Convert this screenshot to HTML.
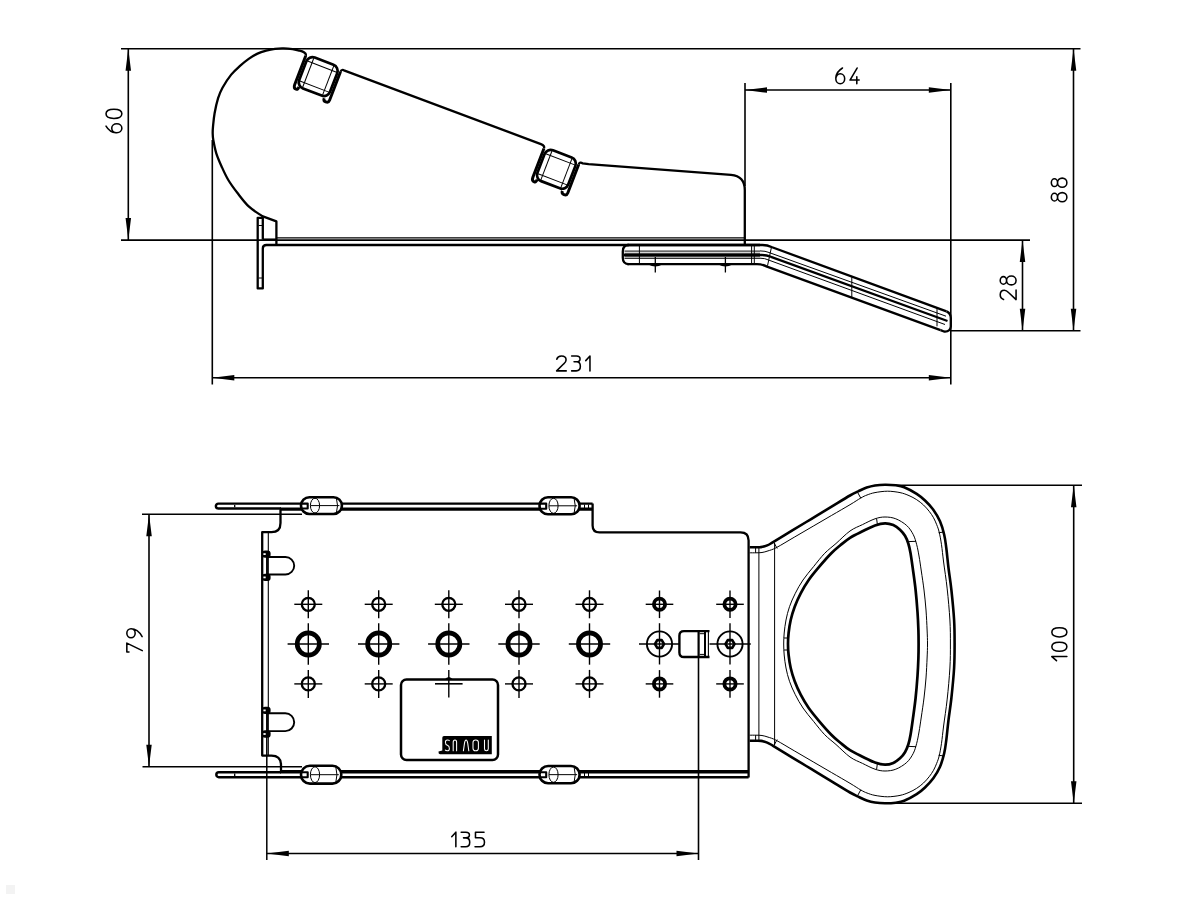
<!DOCTYPE html>
<html><head><meta charset="utf-8"><style>
html,body{margin:0;padding:0;background:#fff;}
svg{display:block;}
text{font-family:"Liberation Sans",sans-serif;fill:#000;stroke:none;}
</style></head><body>
<svg width="1200" height="900" viewBox="0 0 1200 900" stroke="#000" fill="none" stroke-linecap="butt" stroke-linejoin="round">
<rect width="1200" height="900" fill="#fff" stroke="none"/>
<line x1="121" y1="48.8" x2="1080.5" y2="48.8" stroke-width="1.6"/>
<line x1="128.3" y1="48.8" x2="128.3" y2="240" stroke-width="1.6"/>
<path d="M128.3,48.8 L131.05,70.8 L125.55,70.8 Z" fill="#000" stroke="none"/>
<path d="M128.3,240 L125.55,218 L131.05,218 Z" fill="#000" stroke="none"/>
<line x1="121" y1="240.1" x2="1030" y2="240.1" stroke-width="1.6"/>
<line x1="212.3" y1="140" x2="212.3" y2="384.5" stroke-width="1.6"/>
<line x1="212.3" y1="377.7" x2="950.8" y2="377.7" stroke-width="1.6"/>
<path d="M212.3,377.7 L234.3,374.95 L234.3,380.45 Z" fill="#000" stroke="none"/>
<path d="M950.8,377.7 L928.8,380.45 L928.8,374.95 Z" fill="#000" stroke="none"/>
<line x1="950.8" y1="83" x2="950.8" y2="384.5" stroke-width="1.6"/>
<line x1="745" y1="83" x2="745" y2="186" stroke-width="1.6"/>
<line x1="745" y1="90" x2="950.8" y2="90" stroke-width="1.6"/>
<path d="M745,90 L767,87.25 L767,92.75 Z" fill="#000" stroke="none"/>
<path d="M950.8,90 L928.8,92.75 L928.8,87.25 Z" fill="#000" stroke="none"/>
<line x1="1073.5" y1="48.8" x2="1073.5" y2="330.8" stroke-width="1.6"/>
<path d="M1073.5,48.8 L1076.25,70.8 L1070.75,70.8 Z" fill="#000" stroke="none"/>
<path d="M1073.5,330.8 L1070.75,308.8 L1076.25,308.8 Z" fill="#000" stroke="none"/>
<line x1="1022.5" y1="240.1" x2="1022.5" y2="330.8" stroke-width="1.6"/>
<path d="M1022.5,240.1 L1025.25,262.1 L1019.75,262.1 Z" fill="#000" stroke="none"/>
<path d="M1022.5,330.8 L1019.75,308.8 L1025.25,308.8 Z" fill="#000" stroke="none"/>
<line x1="950.8" y1="330.8" x2="1080.5" y2="330.8" stroke-width="1.6"/>
<g transform="matrix(0,-14.91,15.85,0,106.02,132.77)" stroke-width="1.55" fill="none" stroke-linecap="round" stroke-linejoin="round"><path transform="translate(0,0)" d="M0.3,0.36 C0.47,0.36 0.6,0.5 0.6,0.68 C0.6,0.86 0.47,1 0.3,1 C0.13,1 0,0.86 0,0.68 C0,0.5 0.13,0.36 0.3,0.36 Z M0.45,0 C0.24,0.12 0.03,0.3 0,0.62" vector-effect="non-scaling-stroke"/><path transform="translate(0.96,0)" d="M0.31,0 C0.5,0 0.62,0.2 0.62,0.5 C0.62,0.8 0.5,1 0.31,1 C0.12,1 0,0.8 0,0.5 C0,0.2 0.12,0 0.31,0 Z" vector-effect="non-scaling-stroke"/></g>
<g transform="matrix(14.78,0,0,15.8,835.82,68.02)" stroke-width="1.55" fill="none" stroke-linecap="round" stroke-linejoin="round"><path transform="translate(0,0)" d="M0.3,0.36 C0.47,0.36 0.6,0.5 0.6,0.68 C0.6,0.86 0.47,1 0.3,1 C0.13,1 0,0.86 0,0.68 C0,0.5 0.13,0.36 0.3,0.36 Z M0.45,0 C0.24,0.12 0.03,0.3 0,0.62" vector-effect="non-scaling-stroke"/><path transform="translate(0.96,0)" d="M0.48,0 L0,0.76 L0.62,0.76 M0.46,0.56 L0.46,1" vector-effect="non-scaling-stroke"/></g>
<g transform="matrix(0,-15.1,15.55,0,1051.33,201.67)" stroke-width="1.55" fill="none" stroke-linecap="round" stroke-linejoin="round"><path transform="translate(0,0)" d="M0.3,0 C0.44,0 0.56,0.09 0.56,0.2 C0.56,0.31 0.44,0.4 0.3,0.4 C0.16,0.4 0.04,0.31 0.04,0.2 C0.04,0.09 0.16,0 0.3,0 Z M0.3,0.4 C0.47,0.4 0.6,0.53 0.6,0.7 C0.6,0.87 0.47,1 0.3,1 C0.13,1 0,0.87 0,0.7 C0,0.53 0.13,0.4 0.3,0.4 Z" vector-effect="non-scaling-stroke"/><path transform="translate(0.96,0)" d="M0.3,0 C0.44,0 0.56,0.09 0.56,0.2 C0.56,0.31 0.44,0.4 0.3,0.4 C0.16,0.4 0.04,0.31 0.04,0.2 C0.04,0.09 0.16,0 0.3,0 Z M0.3,0.4 C0.47,0.4 0.6,0.53 0.6,0.7 C0.6,0.87 0.47,1 0.3,1 C0.13,1 0,0.87 0,0.7 C0,0.53 0.13,0.4 0.3,0.4 Z" vector-effect="non-scaling-stroke"/></g>
<g transform="matrix(0,-14.72,15.85,0,1000.22,299.57)" stroke-width="1.55" fill="none" stroke-linecap="round" stroke-linejoin="round"><path transform="translate(0,0)" d="M0.01,0.21 C0.05,0.08 0.16,0 0.32,0 C0.5,0 0.63,0.1 0.63,0.26 C0.63,0.37 0.56,0.45 0.46,0.54 L0,1 L0.64,1" vector-effect="non-scaling-stroke"/><path transform="translate(1,0)" d="M0.3,0 C0.44,0 0.56,0.09 0.56,0.2 C0.56,0.31 0.44,0.4 0.3,0.4 C0.16,0.4 0.04,0.31 0.04,0.2 C0.04,0.09 0.16,0 0.3,0 Z M0.3,0.4 C0.47,0.4 0.6,0.53 0.6,0.7 C0.6,0.87 0.47,1 0.3,1 C0.13,1 0,0.87 0,0.7 C0,0.53 0.13,0.4 0.3,0.4 Z" vector-effect="non-scaling-stroke"/></g>
<g transform="matrix(15.02,0,0,14.85,556.62,356.03)" stroke-width="1.55" fill="none" stroke-linecap="round" stroke-linejoin="round"><path transform="translate(0,0)" d="M0.01,0.21 C0.05,0.08 0.16,0 0.32,0 C0.5,0 0.63,0.1 0.63,0.26 C0.63,0.37 0.56,0.45 0.46,0.54 L0,1 L0.64,1" vector-effect="non-scaling-stroke"/><path transform="translate(1,0)" d="M0,0 L0.32,0 C0.47,0 0.56,0.09 0.56,0.2 C0.56,0.31 0.47,0.39 0.32,0.39 L0.16,0.39 M0.32,0.39 C0.49,0.39 0.58,0.52 0.58,0.69 C0.58,0.88 0.47,1 0.3,1 L0,1" vector-effect="non-scaling-stroke"/><path transform="translate(1.94,0)" d="M0,0.31 L0.28,0 L0.28,1" vector-effect="non-scaling-stroke"/></g>
<g transform="translate(318.2,76.6) rotate(21)"><rect x="-16.5" y="-16.5" width="33" height="33" rx="6.5" stroke-width="2.6999999999999997" fill="none"/><line x1="-15.5" y1="-10.7" x2="15.5" y2="-10.7" stroke-width="1.0"/><line x1="-10.7" y1="-15.5" x2="-10.7" y2="15.5" stroke-width="1.0"/><line x1="-15.5" y1="10.7" x2="15.5" y2="10.7" stroke-width="1.0"/><line x1="10.7" y1="-15.5" x2="10.7" y2="15.5" stroke-width="1.0"/><path d="M-19.1,-15.0 L-19.1,16.0 Q-19.1,19.7 -16.1,19.7 Q-14.3,19.7 -14.3,16.5" stroke-width="2.9" fill="none"/><path d="M19.1,-12.5 L19.1,18.0 Q19.1,20.9 16.1,20.9 Q13.3,20.9 13.3,18.0" stroke-width="2.9" fill="none"/></g>
<g transform="translate(556.4,169.3) rotate(21)"><rect x="-16.5" y="-16.5" width="33" height="33" rx="6.5" stroke-width="2.6999999999999997" fill="none"/><line x1="-15.5" y1="-10.7" x2="15.5" y2="-10.7" stroke-width="1.0"/><line x1="-10.7" y1="-15.5" x2="-10.7" y2="15.5" stroke-width="1.0"/><line x1="-15.5" y1="10.7" x2="15.5" y2="10.7" stroke-width="1.0"/><line x1="10.7" y1="-15.5" x2="10.7" y2="15.5" stroke-width="1.0"/><path d="M-19.1,-15.0 L-19.1,16.0 Q-19.1,19.7 -16.1,19.7 Q-14.3,19.7 -14.3,16.5" stroke-width="2.9" fill="none"/><path d="M19.1,-12.5 L19.1,18.0 Q19.1,20.9 16.1,20.9 Q13.3,20.9 13.3,18.0" stroke-width="2.9" fill="none"/></g>
<path d="M276.4,244.5 L276.4,221.4 L262.2,216.1  C260,214.53 253.08,210.5 249,206.7 C244.92,202.9 241.15,197.75 237.7,193.3 C234.25,188.85 230.97,184.43 228.3,180 C225.63,175.57 223.7,171.15 221.7,166.7 C219.7,162.25 217.7,157.75 216.3,153.3 C214.9,148.85 213.9,143.33 213.3,140 C212.7,136.67 212.75,135.52 212.7,133.3 C212.65,131.08 212.68,130.03 213,126.7 C213.32,123.37 213.75,118.05 214.6,113.3 C215.45,108.55 216.78,102.47 218.1,98.2 C219.42,93.93 220.32,91.63 222.5,87.7 C224.68,83.77 228.28,78.23 231.2,74.6 C234.12,70.97 237.08,68.52 240,65.9 C242.92,63.28 245.78,60.95 248.7,58.9 C251.62,56.85 254.58,54.98 257.5,53.6 C260.42,52.22 263.28,51.4 266.2,50.6 C269.12,49.8 272.08,49.17 275,48.8 C277.92,48.43 280.78,48.33 283.7,48.4 C286.62,48.47 289.87,48.83 292.5,49.2 C295.13,49.57 298.33,50.37 299.5,50.6 C302.9,51.3 306.75,53.14 305.74,55.75" stroke-width="2.3" fill="none" />
<path d="M340.51,71.78 Q341.66,68.79 344.61,70.69 L540.94,144.15 Q545.02,145.65 543.94,148.45" stroke-width="2.3" fill="none" />
<path d="M578.71,164.48 Q579.86,161.49 582.8,163.42 L588.6,164.2 L731,174.8 Q744.8,176 744.8,190 L744.8,244.5" stroke-width="2.3" fill="none" />
<path d="M262.8,239.6 L262.8,217.8 L257.7,217.8 L257.7,288.4 L262.8,288.4 L262.8,248.5 Q262.8,245 266.5,245 L760,245" stroke-width="2.3" fill="none" />
<path d="M262.8,239.6 L276.4,239.6" stroke-width="2.3" fill="none" />
<line x1="276.4" y1="237.9" x2="744.8" y2="237.9" stroke-width="1.1"/>
<line x1="258.5" y1="225.5" x2="262" y2="225.5" stroke-width="1.0"/>
<line x1="258.5" y1="278" x2="262" y2="278" stroke-width="1.0"/>
<path d="M627,245 L762.5,245 Q767.5,245 771.5,247 L946.5,311.4" stroke-width="2.3" fill="none" />
<path d="M627,264.2 L757,264.2 Q762,264.2 767,266.6 L940.5,330.2" stroke-width="2.3" fill="none" />
<path d="M629,245 Q622.8,245 622.8,251.5 L622.8,257.8 Q622.8,264.2 629,264.2" stroke-width="2.3" fill="none" />
<path d="M946.5,311.4 Q950.8,313.2 950.8,318 L950.8,326.5 Q950.2,332 944,331.5 L940.5,330.2" stroke-width="2.3" fill="none" />
<line x1="624.5" y1="251.1" x2="760" y2="251.1" stroke-width="1.0"/>
<line x1="624" y1="255" x2="762" y2="255" stroke-width="2.3"/>
<line x1="624.5" y1="258.3" x2="760" y2="258.3" stroke-width="1.0"/>
<line x1="624.5" y1="253.3" x2="760" y2="253.3" stroke-width="0.8"/>
<line x1="624.5" y1="256.7" x2="760" y2="256.7" stroke-width="0.8"/>
<line x1="639.4" y1="245" x2="639.4" y2="264.2" stroke-width="1.0"/>
<line x1="751.6" y1="245" x2="751.6" y2="264.2" stroke-width="1.0"/>
<line x1="754.3" y1="245" x2="754.3" y2="264.2" stroke-width="1.0"/>
<path d="M760,250.9 Q765.5,250.9 769,252.5 L946,316.2" stroke-width="1.0" fill="none" />
<path d="M762,255 Q767,255 771,256.8 L947.5,321" stroke-width="2.3" fill="none" />
<path d="M760,258.2 Q765,258.2 768.5,260 L945,324.5" stroke-width="1.0" fill="none" />
<line x1="851.8" y1="277.2" x2="851.8" y2="297.6" stroke-width="1.0"/>
<line x1="937" y1="307.5" x2="937" y2="326.3" stroke-width="1.0"/>
<line x1="771.5" y1="247" x2="767.5" y2="265.8" stroke-width="1.0"/>
<line x1="655.3" y1="257" x2="655.3" y2="272.5" stroke-width="1.3"/>
<path d="M648.3,264.5 Q655.3,268.5 662.3,264.5 Z" fill="#000" stroke="none"/>
<line x1="725.4" y1="257" x2="725.4" y2="272.5" stroke-width="1.3"/>
<path d="M718.4,264.5 Q725.4,268.5 732.4,264.5 Z" fill="#000" stroke="none"/>
<line x1="142" y1="514.2" x2="302" y2="514.2" stroke-width="1.6"/>
<line x1="142.5" y1="766.7" x2="302" y2="766.7" stroke-width="1.6"/>
<line x1="149" y1="514.2" x2="149" y2="766.7" stroke-width="1.6"/>
<path d="M149,514.2 L151.75,536.2 L146.25,536.2 Z" fill="#000" stroke="none"/>
<path d="M149,766.7 L146.25,744.7 L151.75,744.7 Z" fill="#000" stroke="none"/>
<g transform="matrix(0,-14.9,15.45,0,126.83,652.08)" stroke-width="1.55" fill="none" stroke-linecap="round" stroke-linejoin="round"><path transform="translate(0,0)" d="M0,0.14 L0,0 L0.6,0 L0.1,1" vector-effect="non-scaling-stroke"/><path transform="translate(0.96,0)" d="M0.3,0 C0.47,0 0.6,0.12 0.6,0.27 C0.6,0.42 0.47,0.54 0.3,0.54 C0.13,0.54 0,0.42 0,0.27 C0,0.12 0.13,0 0.3,0 Z M0.6,0.27 C0.6,0.52 0.42,0.8 0.08,0.99" vector-effect="non-scaling-stroke"/></g>
<line x1="890" y1="485.2" x2="1082" y2="485.2" stroke-width="1.6"/>
<line x1="886" y1="803.3" x2="1082" y2="803.3" stroke-width="1.6"/>
<line x1="1073.7" y1="485.2" x2="1073.7" y2="803.3" stroke-width="1.6"/>
<path d="M1073.7,485.2 L1076.45,507.2 L1070.95,507.2 Z" fill="#000" stroke="none"/>
<path d="M1073.7,803.3 L1070.95,781.3 L1076.45,781.3 Z" fill="#000" stroke="none"/>
<g transform="matrix(0,-14.67,15.05,0,1051.83,660.68)" stroke-width="1.55" fill="none" stroke-linecap="round" stroke-linejoin="round"><path transform="translate(0,0)" d="M0,0.31 L0.28,0 L0.28,1" vector-effect="non-scaling-stroke"/><path transform="translate(0.64,0)" d="M0.31,0 C0.5,0 0.62,0.2 0.62,0.5 C0.62,0.8 0.5,1 0.31,1 C0.12,1 0,0.8 0,0.5 C0,0.2 0.12,0 0.31,0 Z" vector-effect="non-scaling-stroke"/><path transform="translate(1.62,0)" d="M0.31,0 C0.5,0 0.62,0.2 0.62,0.5 C0.62,0.8 0.5,1 0.31,1 C0.12,1 0,0.8 0,0.5 C0,0.2 0.12,0 0.31,0 Z" vector-effect="non-scaling-stroke"/></g>
<line x1="268.3" y1="532" x2="268.3" y2="755.6" stroke-width="1.1"/>
<line x1="266.8" y1="733" x2="266.8" y2="860" stroke-width="1.5"/>
<line x1="698.5" y1="657.5" x2="698.5" y2="860" stroke-width="1.6"/>
<line x1="266.8" y1="853.5" x2="698.5" y2="853.5" stroke-width="1.6"/>
<path d="M266.8,853.5 L288.8,850.75 L288.8,856.25 Z" fill="#000" stroke="none"/>
<path d="M698.5,853.5 L676.5,856.25 L676.5,850.75 Z" fill="#000" stroke="none"/>
<g transform="matrix(14.75,0,0,14.6,451.73,832.17)" stroke-width="1.55" fill="none" stroke-linecap="round" stroke-linejoin="round"><path transform="translate(0,0)" d="M0,0.31 L0.28,0 L0.28,1" vector-effect="non-scaling-stroke"/><path transform="translate(0.64,0)" d="M0,0 L0.32,0 C0.47,0 0.56,0.09 0.56,0.2 C0.56,0.31 0.47,0.39 0.32,0.39 L0.16,0.39 M0.32,0.39 C0.49,0.39 0.58,0.52 0.58,0.69 C0.58,0.88 0.47,1 0.3,1 L0,1" vector-effect="non-scaling-stroke"/><path transform="translate(1.58,0)" d="M0.61,0 L0.03,0 L0.03,0.38 L0.34,0.38 C0.53,0.38 0.64,0.5 0.64,0.69 C0.64,0.88 0.52,1 0.33,1 L0,1" vector-effect="non-scaling-stroke"/></g>
<path d="M592.6,503.6 L218.3,503.6 A2.45,2.45 0 0 0 218.3,508.5 L281,508.5" stroke-width="2.4" fill="none" />
<line x1="280" y1="509.1" x2="592.6" y2="509.1" stroke-width="3.4"/>
<path d="M281,772.3 L218.8,772.3 A2.45,2.45 0 0 0 218.8,777.2 L748.6,777.2" stroke-width="2.5" fill="none" />
<line x1="280" y1="771.8" x2="748.6" y2="771.8" stroke-width="3.6"/>
<line x1="234.7" y1="505" x2="234.7" y2="507.2" stroke-width="1.3"/>
<line x1="234.7" y1="773.6" x2="234.7" y2="775.9" stroke-width="1.3"/>
<path d="M592.6,503.5 L592.6,525.5 Q592.6,532.4 599.5,532.4 L740.5,532.4 Q748.6,532.4 748.6,540.5 L748.6,777.4" stroke-width="2.3" fill="none" />
<path d="M280.5,509.2 L280.5,523 Q280.5,532.2 271.5,532.2 L262.2,532.2 L262.2,755.6 L271.5,755.6 Q281,755.6 281,765.1 L281,771.9" stroke-width="2.3" fill="none" />
<line x1="584.5" y1="504.5" x2="584.5" y2="508.2" stroke-width="1.0"/>
<line x1="584.5" y1="772.8" x2="584.5" y2="776.6" stroke-width="1.0"/>
<line x1="588.5" y1="504.5" x2="588.5" y2="508.2" stroke-width="1.0"/>
<line x1="588.5" y1="772.8" x2="588.5" y2="776.6" stroke-width="1.0"/>
<path d="M267,557 L285.45,557 A8.75,8.75 0 0 1 285.45,574.5 L267,574.5 Z" stroke-width="1.9" fill="none" />
<rect x="262" y="550.4" width="8.6" height="7.4" rx="3" fill="#000" stroke="none"/>
<rect x="263.4" y="553.2" width="2.3" height="1.8" fill="#fff" stroke="none"/>
<rect x="262" y="573.7" width="8.6" height="7.4" rx="3" fill="#000" stroke="none"/>
<rect x="263.4" y="576.5" width="2.3" height="1.8" fill="#fff" stroke="none"/>
<path d="M267,713.3 L285.3,713.3 A8.9,8.9 0 0 1 285.3,731.1 L267,731.1 Z" stroke-width="1.9" fill="none" />
<rect x="262" y="706.7" width="8.6" height="7.4" rx="3" fill="#000" stroke="none"/>
<rect x="263.4" y="709.5" width="2.3" height="1.8" fill="#fff" stroke="none"/>
<rect x="262" y="730.3" width="8.6" height="7.4" rx="3" fill="#000" stroke="none"/>
<rect x="263.4" y="733.1" width="2.3" height="1.8" fill="#fff" stroke="none"/>
<rect x="301" y="497.2" width="40.9" height="16.8" rx="8.4" stroke-width="2.5999999999999996" fill="#fff"/>
<path d="M301.5,503.6 L307.7,503.6 L307.7,508.5 L301.5,508.5" stroke-width="2.1"/>
<ellipse cx="315" cy="505.6" rx="4.6" ry="7.4" stroke-width="1.0"/>
<path d="M336.4,498.4 Q338.7,505.6 336.4,512.8" stroke-width="1.0"/>
<line x1="310.5" y1="505.6" x2="339.4" y2="505.6" stroke-width="1.0"/>
<rect x="539.5" y="497.3" width="40.1" height="17" rx="8.5" stroke-width="2.5999999999999996" fill="#fff"/>
<path d="M540,503.6 L546.2,503.6 L546.2,508.7 L540,508.7" stroke-width="2.1"/>
<ellipse cx="553.5" cy="505.8" rx="4.6" ry="7.5" stroke-width="1.0"/>
<path d="M574.1,498.5 Q576.4,505.8 574.1,513.1" stroke-width="1.0"/>
<line x1="549" y1="505.8" x2="577.1" y2="505.8" stroke-width="1.0"/>
<rect x="301" y="765.8" width="40.3" height="17.8" rx="8.9" stroke-width="2.5999999999999996" fill="#fff"/>
<path d="M301.5,772.3 L307.7,772.3 L307.7,777.2 L301.5,777.2" stroke-width="2.1"/>
<ellipse cx="315" cy="774.7" rx="4.6" ry="7.9" stroke-width="1.0"/>
<path d="M335.8,767 Q338.1,774.7 335.8,782.4" stroke-width="1.0"/>
<line x1="310.5" y1="774.7" x2="338.8" y2="774.7" stroke-width="1.0"/>
<rect x="539.5" y="766" width="40.1" height="17.3" rx="8.65" stroke-width="2.5999999999999996" fill="#fff"/>
<path d="M540,772.3 L546.2,772.3 L546.2,777.2 L540,777.2" stroke-width="2.1"/>
<ellipse cx="553.5" cy="774.65" rx="4.6" ry="7.65" stroke-width="1.0"/>
<path d="M574.1,767.2 Q576.4,774.65 574.1,782.1" stroke-width="1.0"/>
<line x1="549" y1="774.65" x2="577.1" y2="774.65" stroke-width="1.0"/>
<circle cx="308.3" cy="604.3" r="6.5" stroke-width="2.3"/>
<line x1="294.3" y1="604.3" x2="322.3" y2="604.3" stroke-width="1.4"/>
<line x1="308.3" y1="590.3" x2="308.3" y2="618.3" stroke-width="1.4"/>
<circle cx="308.3" cy="644" r="11.1" stroke-width="4.7"/>
<line x1="287.6" y1="644" x2="329" y2="644" stroke-width="1.4"/>
<line x1="308.3" y1="623.3" x2="308.3" y2="664.7" stroke-width="1.4"/>
<circle cx="308.3" cy="683.9" r="6.5" stroke-width="2.3"/>
<line x1="294.3" y1="683.9" x2="322.3" y2="683.9" stroke-width="1.4"/>
<line x1="308.3" y1="669.9" x2="308.3" y2="697.9" stroke-width="1.4"/>
<circle cx="378.7" cy="604.3" r="6.5" stroke-width="2.3"/>
<line x1="364.7" y1="604.3" x2="392.7" y2="604.3" stroke-width="1.4"/>
<line x1="378.7" y1="590.3" x2="378.7" y2="618.3" stroke-width="1.4"/>
<circle cx="378.7" cy="644" r="11.1" stroke-width="4.7"/>
<line x1="358" y1="644" x2="399.4" y2="644" stroke-width="1.4"/>
<line x1="378.7" y1="623.3" x2="378.7" y2="664.7" stroke-width="1.4"/>
<circle cx="378.7" cy="683.9" r="6.5" stroke-width="2.3"/>
<line x1="364.7" y1="683.9" x2="392.7" y2="683.9" stroke-width="1.4"/>
<line x1="378.7" y1="669.9" x2="378.7" y2="697.9" stroke-width="1.4"/>
<circle cx="448.8" cy="604.3" r="6.5" stroke-width="2.3"/>
<line x1="434.8" y1="604.3" x2="462.8" y2="604.3" stroke-width="1.4"/>
<line x1="448.8" y1="590.3" x2="448.8" y2="618.3" stroke-width="1.4"/>
<circle cx="448.8" cy="644" r="11.1" stroke-width="4.7"/>
<line x1="428.1" y1="644" x2="469.5" y2="644" stroke-width="1.4"/>
<line x1="448.8" y1="623.3" x2="448.8" y2="664.7" stroke-width="1.4"/>
<circle cx="519" cy="604.3" r="6.5" stroke-width="2.3"/>
<line x1="505" y1="604.3" x2="533" y2="604.3" stroke-width="1.4"/>
<line x1="519" y1="590.3" x2="519" y2="618.3" stroke-width="1.4"/>
<circle cx="519" cy="644" r="11.1" stroke-width="4.7"/>
<line x1="498.3" y1="644" x2="539.7" y2="644" stroke-width="1.4"/>
<line x1="519" y1="623.3" x2="519" y2="664.7" stroke-width="1.4"/>
<circle cx="519" cy="683.9" r="6.5" stroke-width="2.3"/>
<line x1="505" y1="683.9" x2="533" y2="683.9" stroke-width="1.4"/>
<line x1="519" y1="669.9" x2="519" y2="697.9" stroke-width="1.4"/>
<circle cx="589.5" cy="604.3" r="6.5" stroke-width="2.3"/>
<line x1="575.5" y1="604.3" x2="603.5" y2="604.3" stroke-width="1.4"/>
<line x1="589.5" y1="590.3" x2="589.5" y2="618.3" stroke-width="1.4"/>
<circle cx="589.5" cy="644" r="11.1" stroke-width="4.7"/>
<line x1="568.8" y1="644" x2="610.2" y2="644" stroke-width="1.4"/>
<line x1="589.5" y1="623.3" x2="589.5" y2="664.7" stroke-width="1.4"/>
<circle cx="589.5" cy="683.9" r="6.5" stroke-width="2.3"/>
<line x1="575.5" y1="683.9" x2="603.5" y2="683.9" stroke-width="1.4"/>
<line x1="589.5" y1="669.9" x2="589.5" y2="697.9" stroke-width="1.4"/>
<circle cx="659.5" cy="604.3" r="5.6" stroke-width="3.8"/>
<line x1="645.7" y1="604.3" x2="673.3" y2="604.3" stroke-width="1.4"/>
<line x1="659.5" y1="590.5" x2="659.5" y2="618.1" stroke-width="1.4"/>
<circle cx="659.5" cy="644" r="12.6" stroke-width="1.9"/>
<polygon points="664,644 661.75,647.9 657.25,647.9 655,644 657.25,640.1 661.75,640.1" stroke-width="2.6"/>
<circle cx="659.5" cy="683.9" r="5.6" stroke-width="3.8"/>
<line x1="645.7" y1="683.9" x2="673.3" y2="683.9" stroke-width="1.4"/>
<line x1="659.5" y1="670.1" x2="659.5" y2="697.7" stroke-width="1.4"/>
<circle cx="730" cy="604.3" r="5.6" stroke-width="3.8"/>
<line x1="716.2" y1="604.3" x2="743.8" y2="604.3" stroke-width="1.4"/>
<line x1="730" y1="590.5" x2="730" y2="618.1" stroke-width="1.4"/>
<circle cx="730" cy="644" r="12.6" stroke-width="1.9"/>
<polygon points="734.5,644 732.25,647.9 727.75,647.9 725.5,644 727.75,640.1 732.25,640.1" stroke-width="2.6"/>
<circle cx="730" cy="683.9" r="5.6" stroke-width="3.8"/>
<line x1="716.2" y1="683.9" x2="743.8" y2="683.9" stroke-width="1.4"/>
<line x1="730" y1="670.1" x2="730" y2="697.7" stroke-width="1.4"/>
<line x1="639" y1="644" x2="679.7" y2="644" stroke-width="1.4"/>
<line x1="708.5" y1="644" x2="750.8" y2="644" stroke-width="1.4"/>
<line x1="659.5" y1="623.2" x2="659.5" y2="664.5" stroke-width="1.4"/>
<line x1="730" y1="623.2" x2="730" y2="664.5" stroke-width="1.4"/>
<line x1="448.8" y1="670" x2="448.8" y2="697.5" stroke-width="1.4"/>
<line x1="435" y1="683.8" x2="462.6" y2="683.8" stroke-width="1.6"/>
<path d="M444.5,679.6 Q448.8,674.5 453.1,679.6 Z" fill="#000" stroke="none"/>
<rect x="401" y="679.6" width="97" height="80.4" rx="5.5" stroke-width="2.5" fill="none"/>
<path d="M444,736 L491.8,736 L491.8,754.2 L440,754.2 Q438.2,754 438.5,751.5 L442.3,750.5 L442.3,737.8 Q442.3,736 444,736 Z" fill="#000" stroke="none"/>
<g stroke="#fff" stroke-width="1.05" fill="none" stroke-linecap="round"><path d="M449.3,740.6 Q449,740 447.3,740 Q445.4,740 445.4,742.2 Q445.4,744.6 447.4,745.3 Q449.4,746 449.4,748.4 Q449.4,750.8 447.3,750.8 Q445.6,750.8 445.3,750"/><path d="M453.2,750.8 L453.2,742.2 Q453.2,740 455,740 Q456.6,740 456.6,742.2 L456.6,750.8"/><path d="M463.4,750.8 L464.5,743.2 Q465,740 466.1,740 Q467.2,740 467.7,743.2 L468.8,750.8"/><rect x="473" y="740" width="5.4" height="10.8" rx="2.6"/><path d="M484.5,740 L484.5,748.8 Q484.5,750.8 486.4,750.8 Q488.3,750.8 488.3,748.8 L488.3,740"/></g>
<path d="M709.5,631.1 L684,631.1 Q679.4,631.1 679.4,635.7 L679.4,652.4 Q679.4,657 684,657 L709.5,657" stroke-width="2.4" fill="#fff"/>
<line x1="698.6" y1="631.1" x2="698.6" y2="657" stroke-width="2.2"/>
<line x1="705" y1="631.1" x2="705" y2="657" stroke-width="2.0"/>
<line x1="708.4" y1="632" x2="708.4" y2="656" stroke-width="1.1"/>
<line x1="699.6" y1="633.7" x2="704" y2="633.7" stroke-width="1.0"/>
<line x1="699.6" y1="654.4" x2="704" y2="654.4" stroke-width="1.0"/>
<path d="M749.7,547.3 C750.75,547.3 754.12,547.33 756,547.3 C757.88,547.27 759.13,547.42 761,547.1 C762.87,546.78 765.18,546.23 767.2,545.4 C769.22,544.57 768.91,544.59 773.1,542.1 C777.29,539.61 785.92,534.33 792.33,530.45 C798.73,526.57 805.14,522.68 811.55,518.8 C817.96,514.92 824.37,511.03 830.77,507.15 C837.18,503.27 845.41,498.14 850,495.5 C854.59,492.86 855.52,492.62 858.3,491.3 C861.08,489.98 863.92,488.57 866.7,487.6 C869.48,486.63 871.95,485.98 875,485.5 C878.05,485.02 881.53,484.73 885,484.7 C888.47,484.67 892.6,484.88 895.8,485.3 C899,485.72 900.72,485.78 904.2,487.2 C907.68,488.62 913.23,491.58 916.7,493.8 C920.17,496.02 922.23,497.85 925,500.5 C927.77,503.15 930.8,506.23 933.3,509.7 C935.8,513.17 938.18,517.13 940,521.3 C941.82,525.47 943.15,530.25 944.2,534.7 C945.25,539.15 945.58,542.45 946.3,548 C947.02,553.55 947.65,561 948.5,568 C949.35,575 950.47,581.33 951.4,590 C952.33,598.67 953.57,611 954.1,620 C954.63,629 954.6,636 954.6,644 C954.6,652 954.63,659 954.1,668 C953.57,677 952.33,689.33 951.4,698 C950.47,706.67 949.35,713 948.5,720 C947.65,727 947.02,734.45 946.3,740 C945.58,745.55 945.25,748.85 944.2,753.3 C943.15,757.75 941.82,762.53 940,766.7 C938.18,770.87 935.8,774.83 933.3,778.3 C930.8,781.77 927.77,784.85 925,787.5 C922.23,790.15 920.17,791.98 916.7,794.2 C913.23,796.42 907.68,799.38 904.2,800.8 C900.72,802.22 899,802.28 895.8,802.7 C892.6,803.12 888.47,803.33 885,803.3 C881.53,803.27 878.05,802.98 875,802.5 C871.95,802.02 869.48,801.37 866.7,800.4 C863.92,799.43 861.08,798.02 858.3,796.7 C855.52,795.38 854.59,795.14 850,792.5 C845.41,789.86 837.18,784.73 830.77,780.85 C824.37,776.97 817.96,773.08 811.55,769.2 C805.14,765.32 798.73,761.43 792.33,757.55 C785.92,753.67 777.29,748.39 773.1,745.9 C768.91,743.41 769.22,743.43 767.2,742.6 C765.18,741.77 762.87,741.22 761,740.9 C759.13,740.58 757.88,740.73 756,740.7 C754.12,740.67 750.75,740.7 749.7,740.7" stroke-width="2.5999999999999996" fill="none" />
<path d="M749.7,552.8 C750.75,552.8 753.95,552.85 756,552.8 C758.05,552.75 760,552.82 762,552.5 C764,552.18 765.6,551.72 768,550.9 C770.4,550.08 771.93,549.94 776.4,547.6 C780.87,545.26 788.67,540.45 794.8,536.88 C800.93,533.3 807.07,529.73 813.2,526.15 C819.33,522.57 825.47,519 831.6,515.42 C837.73,511.85 845.13,507.6 850,504.7 C854.87,501.8 857.97,499.62 860.8,498 C863.63,496.38 864.63,495.9 867,495 C869.37,494.1 871.58,493.23 875,492.6 C878.42,491.97 883.33,491.2 887.5,491.2 C891.67,491.2 896.42,491.87 900,492.6 C903.58,493.33 906.22,494.42 909,495.6 C911.78,496.78 914.28,498.13 916.7,499.7 C919.12,501.27 921.42,503.07 923.5,505 C925.58,506.93 927.53,509.18 929.2,511.3 C930.87,513.42 932.25,515.47 933.5,517.7 C934.75,519.93 935.75,522.28 936.7,524.7 C937.65,527.12 938.4,528.87 939.2,532.2 C940,535.53 940.77,539.73 941.5,544.7 C942.23,549.67 942.65,554.63 943.6,562 C944.55,569.37 946.15,579.23 947.2,588.9 C948.25,598.57 949.37,610.82 949.9,620 C950.43,629.18 950.4,636 950.4,644 C950.4,652 950.43,658.82 949.9,668 C949.37,677.18 948.25,689.43 947.2,699.1 C946.15,708.77 944.55,718.63 943.6,726 C942.65,733.37 942.23,738.33 941.5,743.3 C940.77,748.27 940,752.47 939.2,755.8 C938.4,759.13 937.65,760.88 936.7,763.3 C935.75,765.72 934.75,768.07 933.5,770.3 C932.25,772.53 930.87,774.58 929.2,776.7 C927.53,778.82 925.58,781.07 923.5,783 C921.42,784.93 919.12,786.73 916.7,788.3 C914.28,789.87 911.78,791.22 909,792.4 C906.22,793.58 903.58,794.67 900,795.4 C896.42,796.13 891.67,796.8 887.5,796.8 C883.33,796.8 878.42,796.03 875,795.4 C871.58,794.77 869.37,793.9 867,793 C864.63,792.1 863.63,791.62 860.8,790 C857.97,788.38 854.87,786.2 850,783.3 C845.13,780.4 837.73,776.15 831.6,772.58 C825.47,769 819.33,765.43 813.2,761.85 C807.07,758.27 800.93,754.7 794.8,751.12 C788.67,747.55 780.87,742.74 776.4,740.4 C771.93,738.06 770.4,737.92 768,737.1 C765.6,736.28 764,735.82 762,735.5 C760,735.18 758.05,735.25 756,735.2 C753.95,735.15 750.75,735.2 749.7,735.2" stroke-width="1.0" fill="none" />
<path d="M788,644 C788,640.33 788.15,637 788.6,633 C789.05,629 789.68,624.38 790.7,620 C791.72,615.62 793.03,611.15 794.7,606.7 C796.37,602.25 798.37,597.75 800.7,593.3 C803.03,588.85 805.6,584.43 808.7,580 C811.8,575.57 815.53,571.15 819.3,566.7 C823.07,562.25 827.8,556.87 831.3,553.3 C834.8,549.73 837.18,547.88 840.3,545.3 C843.42,542.72 846.3,540.13 850,537.8 C853.7,535.47 858.33,533.35 862.5,531.3 C866.67,529.25 871.25,526.83 875,525.5 C878.75,524.17 881.95,523.37 885,523.3 C888.05,523.23 890.8,524.03 893.3,525.1 C895.8,526.17 898.05,527.92 900,529.7 C901.95,531.48 903.62,533.5 905,535.8 C906.38,538.1 907.38,540.63 908.3,543.5 C909.22,546.37 909.72,548.58 910.5,553 C911.28,557.42 912.15,563.83 913,570 C913.85,576.17 914.85,583 915.6,590 C916.35,597 917.03,605.33 917.5,612 C917.97,618.67 918.22,624.67 918.4,630 C918.58,635.33 918.6,639.33 918.6,644 C918.6,648.67 918.58,652.67 918.4,658 C918.22,663.33 917.97,669.33 917.5,676 C917.03,682.67 916.35,691 915.6,698 C914.85,705 913.85,711.83 913,718 C912.15,724.17 911.28,730.58 910.5,735 C909.72,739.42 909.22,741.63 908.3,744.5 C907.38,747.37 906.38,749.9 905,752.2 C903.62,754.5 901.95,756.52 900,758.3 C898.05,760.08 895.8,761.83 893.3,762.9 C890.8,763.97 888.05,764.77 885,764.7 C881.95,764.63 878.75,763.83 875,762.5 C871.25,761.17 866.67,758.75 862.5,756.7 C858.33,754.65 853.7,752.53 850,750.2 C846.3,747.87 843.42,745.28 840.3,742.7 C837.18,740.12 834.8,738.27 831.3,734.7 C827.8,731.13 823.07,725.75 819.3,721.3 C815.53,716.85 811.8,712.43 808.7,708 C805.6,703.57 803.03,699.15 800.7,694.7 C798.37,690.25 796.37,685.75 794.7,681.3 C793.03,676.85 791.72,672.38 790.7,668 C789.68,663.62 789.05,659 788.6,655 C788.15,651 788,647.67 788,644 Z" stroke-width="2.6999999999999997" fill="none" />
<path d="M783.7,644 C783.7,640.33 783.82,637 784.2,633 C784.58,629 785.12,624.38 786,620 C786.88,615.62 787.95,611.15 789.5,606.7 C791.05,602.25 793.05,597.75 795.3,593.3 C797.55,588.85 799.97,584.43 803,580 C806.03,575.57 809.88,571.15 813.5,566.7 C817.12,562.25 820.95,557.17 824.7,553.3 C828.45,549.43 831.78,547.22 836,543.5 C840.22,539.78 845.58,534.15 850,531 C854.42,527.85 858.33,526.63 862.5,524.6 C866.67,522.57 871.25,520.07 875,518.8 C878.75,517.53 881.53,517 885,517 C888.47,517 892.18,517.38 895.8,518.8 C899.42,520.22 903.78,522.85 906.7,525.5 C909.62,528.15 911.63,531.5 913.3,534.7 C914.97,537.9 915.75,541.15 916.7,544.7 C917.65,548.25 918.23,551.62 919,556 C919.77,560.38 920.47,565.33 921.3,571 C922.13,576.67 923.22,583.5 924,590 C924.78,596.5 925.48,603.33 926,610 C926.52,616.67 926.85,624.33 927.1,630 C927.35,635.67 927.5,639.33 927.5,644 C927.5,648.67 927.35,652.33 927.1,658 C926.85,663.67 926.52,671.33 926,678 C925.48,684.67 924.78,691.5 924,698 C923.22,704.5 922.13,711.33 921.3,717 C920.47,722.67 919.77,727.62 919,732 C918.23,736.38 917.65,739.75 916.7,743.3 C915.75,746.85 914.97,750.1 913.3,753.3 C911.63,756.5 909.62,759.85 906.7,762.5 C903.78,765.15 899.42,767.78 895.8,769.2 C892.18,770.62 888.47,771 885,771 C881.53,771 878.75,770.47 875,769.2 C871.25,767.93 866.67,765.43 862.5,763.4 C858.33,761.37 854.42,760.15 850,757 C845.58,753.85 840.22,748.22 836,744.5 C831.78,740.78 828.45,738.57 824.7,734.7 C820.95,730.83 817.12,725.75 813.5,721.3 C809.88,716.85 806.03,712.43 803,708 C799.97,703.57 797.55,699.15 795.3,694.7 C793.05,690.25 791.05,685.75 789.5,681.3 C787.95,676.85 786.88,672.38 786,668 C785.12,663.62 784.58,659 784.2,655 C783.82,651 783.7,647.67 783.7,644 Z" stroke-width="1.0" fill="none" />
<line x1="758.9" y1="547.3" x2="758.9" y2="740.7" stroke-width="1.0"/>
<line x1="774.6" y1="543" x2="774.6" y2="745" stroke-width="1.0"/>
<line x1="755.6" y1="547.3" x2="755.6" y2="552.8" stroke-width="1.0"/>
<line x1="755.6" y1="735.2" x2="755.6" y2="740.7" stroke-width="1.0"/>
<line x1="773.5" y1="541.8" x2="777.2" y2="548.5" stroke-width="1.0"/>
<line x1="773.5" y1="746.2" x2="777.2" y2="739.5" stroke-width="1.0"/>
<line x1="857.5" y1="492.2" x2="860.8" y2="498.2" stroke-width="1.0"/>
<line x1="857.5" y1="795.8" x2="860.8" y2="789.8" stroke-width="1.0"/>
<line x1="938.6" y1="532.7" x2="944.2" y2="532" stroke-width="1.0"/>
<line x1="938.6" y1="755.3" x2="944.2" y2="756" stroke-width="1.0"/>
<line x1="876.6" y1="518.6" x2="877.4" y2="524.6" stroke-width="1.0"/>
<line x1="876.6" y1="769.4" x2="877.4" y2="763.4" stroke-width="1.0"/>
<line x1="908.6" y1="541.6" x2="916" y2="541.3" stroke-width="1.0"/>
<line x1="908.6" y1="746.4" x2="916" y2="746.7" stroke-width="1.0"/>
<line x1="783.8" y1="638" x2="788.6" y2="638" stroke-width="1.0"/>
<line x1="783.8" y1="650" x2="788.6" y2="650" stroke-width="1.0"/>
<rect x="6" y="885" width="9" height="9" fill="#f3f3f3" stroke="none"/>
</svg></body></html>
